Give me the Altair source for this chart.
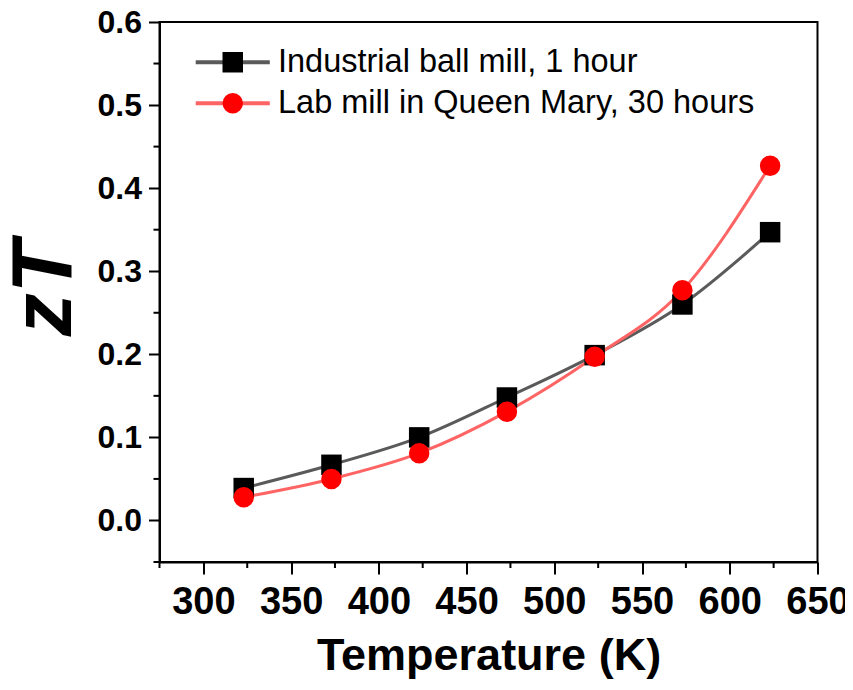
import altair as alt
import pandas as pd

temps = [323, 373, 423, 473, 523, 573, 623]
zt_industrial = [0.039, 0.067, 0.100, 0.148, 0.199, 0.260, 0.347]
zt_lab = [0.028, 0.050, 0.081, 0.131, 0.197, 0.277, 0.427]
series_names = ["Industrial ball mill, 1 hour", "Lab mill in Queen Mary, 30 hours"]
x_ticks = [300, 350, 400, 450, 500, 550, 600, 650]
x_minor = [275, 325, 375, 425, 475, 525, 575, 625]
y_ticks = [0.0, 0.1, 0.2, 0.3, 0.4, 0.5, 0.6]
y_minor = [-0.05, 0.05, 0.15, 0.25, 0.35, 0.45, 0.55]

rows = []
for t, v in zip(temps, zt_industrial):
    rows.append({"T": t, "zT": v, "series": series_names[0]})
for t, v in zip(temps, zt_lab):
    rows.append({"T": t, "zT": v, "series": series_names[1]})
df = pd.DataFrame(rows)

FONT = "Liberation Sans"
xscale = alt.Scale(domain=[275, 650], nice=False, zero=False)
yscale = alt.Scale(domain=[-0.05, 0.6], nice=False, zero=False)

x_enc = alt.X(
    "T:Q", scale=xscale,
    axis=alt.Axis(values=x_ticks, title="Temperature (K)", format="d", grid=False,
                  tickSize=12, tickWidth=2, tickColor="black", domainWidth=2, domainColor="black",
                  labelFont=FONT, labelFontSize=38, labelFontWeight="bold", labelColor="black",
                  labelPadding=9, labelFlush=False, labelOverlap=False,
                  titleFont=FONT, titleFontSize=45, titleFontWeight="bold", titleColor="black",
                  titleBaseline="alphabetic", titleY=107),
)
y_enc = alt.Y(
    "zT:Q", scale=yscale,
    axis=alt.Axis(values=y_ticks, title="zT", format=".1f", grid=False,
                  tickSize=11, tickWidth=2, tickColor="black", domainWidth=2, domainColor="black",
                  labelFont=FONT, labelFontSize=32, labelFontWeight="bold", labelColor="black",
                  labelPadding=7, labelFlush=False, labelOverlap=False,
                  titleFont=FONT, titleFontSize=86, titleFontWeight="bold", titleFontStyle="italic",
                  titleColor="black", titleAngle=270, titleAlign="center",
                  titleBaseline="alphabetic", titleX=-89, titleY=266),
)

line_legend = alt.Legend(title=None, orient="none", legendX=57, legendY=24,
                         symbolType="M-3,0H-0.75M0.75,0H3", symbolSize=610, symbolStrokeWidth=4,
                         labelFont=FONT, labelFontSize=32.5, labelOpacity=0, labelLimit=0,
                         rowPadding=8, padding=0)
pt_legend = alt.Legend(title=None, orient="none", legendX=57, legendY=24,
                       symbolSize=420, symbolStrokeWidth=0, symbolOpacity=1,
                       labelFont=FONT, labelFontSize=32.5, labelColor="black", labelOffset=29,
                       labelLimit=0, rowPadding=8, padding=0)

lines = alt.Chart(df).mark_line(interpolate="monotone", strokeWidth=3).encode(
    x=x_enc, y=y_enc,
    stroke=alt.Stroke("series:N", scale=alt.Scale(domain=series_names, range=["#5a5a5a", "#ff6464"]),
                      legend=line_legend),
)
points = alt.Chart(df).mark_point(filled=True, size=420, opacity=1, strokeWidth=0).encode(
    x=x_enc, y=y_enc,
    color=alt.Color("series:N", scale=alt.Scale(domain=series_names, range=["#000000", "#ff0000"]),
                    legend=pt_legend),
    shape=alt.Shape("series:N", scale=alt.Scale(domain=series_names, range=["square", "circle"]),
                    legend=pt_legend),
)

xminor = alt.Chart(pd.DataFrame({"T": x_minor})).mark_rule(color="black", strokeWidth=2).encode(
    x=alt.X("T:Q", scale=xscale), y=alt.value(540), y2=alt.value(546))
yminor = alt.Chart(pd.DataFrame({"zT": y_minor})).mark_rule(color="black", strokeWidth=2).encode(
    y=alt.Y("zT:Q", scale=yscale), x=alt.value(0), x2=alt.value(-6))

chart = alt.layer(lines, points, xminor, yminor).resolve_legend(
    stroke="independent", color="independent", shape="independent"
).properties(
    width=658, height=540,
    autosize=alt.AutoSizeParams(type="none"),
    padding={"left": 151.5, "top": 14, "right": 27, "bottom": 120},
).configure_view(stroke="black", strokeWidth=2)

chart.save("out.html", embed_options={"renderer": "svg", "actions": False})
